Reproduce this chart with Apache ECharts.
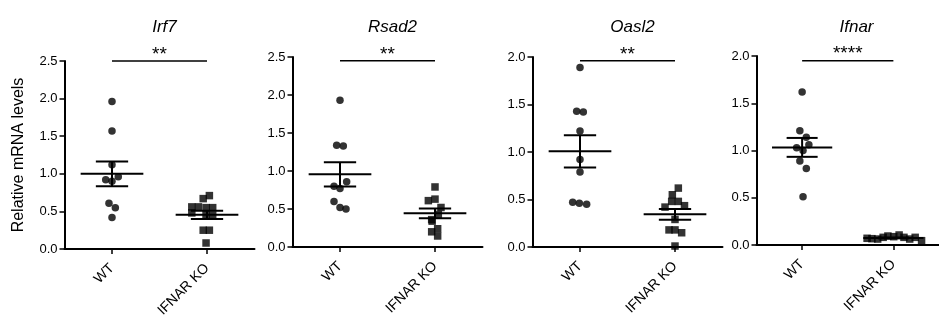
<!DOCTYPE html>
<html>
<head>
<meta charset="utf-8">
<script src="https://cdn.jsdelivr.net/npm/echarts@6/dist/echarts.min.js"></script>
<style>
  html, body { margin: 0; padding: 0; background: #fff; }
  #chart { width: 939px; height: 322px; }
</style>
</head>
<body>
<div id="chart"></div>
<script>
const genes = ["Irf7", "Rsad2", "Oasl2", "Ifnar"];
const groups = ["WT", "IFNAR KO"];
const yMax = [2.5, 2.5, 2.0, 2.0];
const stars = ["**", "**", "**", "****"];
const sigLevel = [2.5, 2.45, 1.96, 1.95];

// WT values (circles) and their horizontal scatter around x = 1
const irf7WT = [1.96, 1.57, 1.12, 0.96, 0.92, 0.90, 0.61, 0.55, 0.42];
const irf7WTx = [1.0, 1.0, 1.0, 1.066, 0.934, 1.0, 0.968, 1.035, 1.0];
const irf7KO = [0.71, 0.67, 0.56, 0.56, 0.55, 0.55, 0.48, 0.46, 0.45, 0.25, 0.25, 0.08];
const irf7KOx = [2.025, 1.96, 1.84, 1.91, 1.99, 2.06, 1.84, 1.99, 2.06, 1.96, 2.025, 1.99];

const rsad2WT = [1.93, 1.34, 1.33, 0.86, 0.80, 0.77, 0.60, 0.52, 0.50];
const rsad2WTx = [1.0, 0.965, 1.035, 1.07, 0.937, 1.0, 0.937, 1.0, 1.063];
const rsad2KO = [0.79, 0.63, 0.61, 0.52, 0.43, 0.36, 0.34, 0.24, 0.20, 0.145];
const rsad2KOx = [2.0, 2.0, 1.93, 2.063, 2.035, 1.965, 1.97, 2.028, 1.965, 2.028];

const oasl2WT = [1.89, 1.43, 1.42, 1.22, 0.92, 0.79, 0.47, 0.46, 0.45];
const oasl2WTx = [1.0, 0.965, 1.035, 1.0, 1.0, 1.0, 0.923, 0.993, 1.07];
const oasl2KO = [0.62, 0.55, 0.48, 0.48, 0.435, 0.42, 0.29, 0.18, 0.18, 0.15, 0.01];
const oasl2KOx = [2.035, 1.972, 1.965, 2.035, 2.1, 1.895, 2.0, 1.937, 2.0, 2.07, 2.0];

const ifnarWT = [1.62, 1.21, 1.14, 1.06, 1.03, 1.00, 0.89, 0.81, 0.51];
const ifnarWTx = [1.0, 0.975, 1.046, 1.074, 0.94, 1.01, 0.975, 1.046, 1.01];
const ifnarKO = [0.071, 0.067, 0.063, 0.081, 0.095, 0.088, 0.106, 0.081, 0.063, 0.081, 0.046];
const ifnarKOx = [1.712, 1.765, 1.828, 1.888, 1.94, 2.004, 2.063, 2.116, 2.179, 2.239, 2.309];

// mean and SEM: [WT, KO]
const means = [[1.00, 0.455], [0.956, 0.443], [1.007, 0.344], [1.033, 0.075]];
const sems = [[0.165, 0.055], [0.16, 0.065], [0.17, 0.056], [0.10, 0.005]];

const wtVals = [irf7WT, rsad2WT, oasl2WT, ifnarWT];
const wtXs = [irf7WTx, rsad2WTx, oasl2WTx, ifnarWTx];
const koVals = [irf7KO, rsad2KO, oasl2KO, ifnarKO];
const koXs = [irf7KOx, rsad2KOx, oasl2KOx, ifnarKOx];

const FONT = "'Liberation Sans', Arial, Helvetica, sans-serif";
const lefts = [64.5, 292.5, 532.5, 756.5];
const tops = [61, 57, 57, 56];
const heights = [188, 190, 190, 189];

const chart = echarts.init(document.getElementById("chart"), null, { renderer: "canvas" });

function renderMean(params, api) {
  const x = api.value(0), m = api.value(1), s = api.value(2);
  const c = api.coord([x, m]);
  const l = api.coord([x - 0.33, m]);
  const r = api.coord([x + 0.33, m]);
  const hi = api.coord([x, m + s]);
  const lo = api.coord([x, m - s]);
  const capL = api.coord([x - 0.17, m])[0];
  const capR = api.coord([x + 0.17, m])[0];
  const st = { stroke: "#000", lineWidth: 2 };
  return {
    type: "group",
    children: [
      { type: "line", shape: { x1: l[0], y1: c[1], x2: r[0], y2: c[1] }, style: st },
      { type: "line", shape: { x1: c[0], y1: hi[1], x2: c[0], y2: lo[1] }, style: st },
      { type: "line", shape: { x1: capL, y1: hi[1], x2: capR, y2: hi[1] }, style: st },
      { type: "line", shape: { x1: capL, y1: lo[1], x2: capR, y2: lo[1] }, style: st }
    ]
  };
}

function renderSig(params, api) {
  const a = api.coord([api.value(0), api.value(2)]);
  const b = api.coord([api.value(1), api.value(2)]);
  return {
    type: "group",
    children: [
      { type: "line", shape: { x1: a[0], y1: a[1], x2: b[0], y2: b[1] }, style: { stroke: "#000", lineWidth: 1.5 } },
      {
        type: "text",
        style: {
          text: stars[params.seriesIndex / 4 | 0],
          x: (a[0] + b[0]) / 2, y: a[1] + 3,
          align: "center", verticalAlign: "bottom",
          fontSize: 19, fontFamily: FONT, fill: "#000"
        }
      }
    ]
  };
}

const grid = [], xAxis = [], yAxis = [], series = [], title = [];
genes.forEach((g, i) => {
  grid.push({ left: lefts[i], top: tops[i], width: 190, height: heights[i] });
  title.push({
    text: g, left: lefts[i] + 95, top: 14, textAlign: "center",
    textStyle: { fontFamily: FONT, fontSize: 17, fontStyle: "italic", fontWeight: "normal", color: "#000" }
  });
  xAxis.push({
    type: "category", gridIndex: i, data: groups, boundaryGap: true,
    axisLine: { lineStyle: { color: "#000", width: 2 } },
    axisTick: { show: true, alignWithLabel: true, length: 5, lineStyle: { color: "#000", width: 1.5 } },
    axisLabel: { rotate: 45, margin: 17, fontSize: 14, fontFamily: FONT, color: "#000" },
    splitLine: { show: false }
  });
  xAxis.push({ type: "value", gridIndex: i, min: 0.5, max: 2.5, show: false });
  yAxis.push({
    type: "value", gridIndex: i, min: 0, max: yMax[i], interval: 0.5,
    name: i === 0 ? "Relative mRNA levels" : "",
    nameLocation: "middle", nameGap: 38,
    nameTextStyle: { fontFamily: FONT, fontSize: 16, color: "#000" },
    axisLine: { show: true, lineStyle: { color: "#000", width: 2 } },
    axisTick: { show: true, length: 5, lineStyle: { color: "#000", width: 1.5 } },
    axisLabel: { margin: 7, fontSize: 13, fontFamily: FONT, color: "#000", formatter: v => v.toFixed(1) },
    splitLine: { show: false }
  });
  const vx = 2 * i + 1;
  series.push({
    type: "scatter", xAxisIndex: vx, yAxisIndex: i, symbol: "circle", symbolSize: 7.5,
    itemStyle: { color: "#000" },
    data: wtVals[i].map((v, k) => [wtXs[i][k], v])
  });
  series.push({
    type: "scatter", xAxisIndex: vx, yAxisIndex: i, symbol: "rect", symbolSize: 7.5,
    itemStyle: { color: "#000" },
    data: koVals[i].map((v, k) => [koXs[i][k], v])
  });
  series.push({
    type: "custom", xAxisIndex: vx, yAxisIndex: i, renderItem: renderMean, z: 3,
    data: [[1, means[i][0], sems[i][0]], [2, means[i][1], sems[i][1]]]
  });
  series.push({
    type: "custom", xAxisIndex: vx, yAxisIndex: i, renderItem: renderSig, clip: false,
    data: [[1, 2, sigLevel[i]]]
  });
});

chart.setOption({ animation: false, title, grid, xAxis, yAxis, series });
</script>
</body>
</html>
